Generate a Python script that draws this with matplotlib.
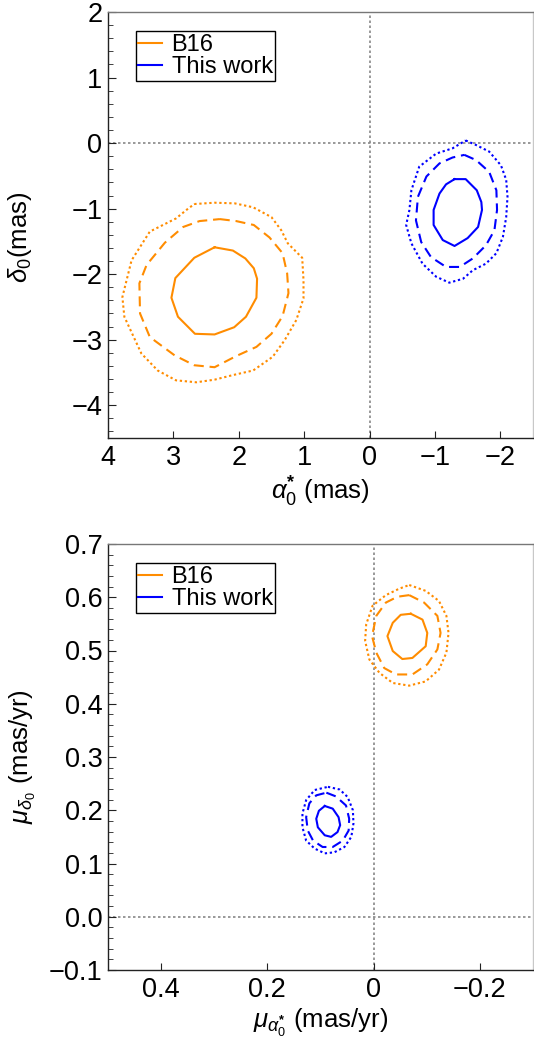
import numpy as np
import matplotlib
matplotlib.use("Agg")
import matplotlib.pyplot as plt
from matplotlib.ticker import FixedLocator, MultipleLocator

plt.rcParams['font.family'] = ['Liberation Sans', 'DejaVu Sans']
plt.rcParams['mathtext.fontset'] = 'custom'
plt.rcParams['mathtext.rm'] = 'Liberation Sans'
plt.rcParams['mathtext.it'] = 'Liberation Sans:italic'
plt.rcParams['mathtext.bf'] = 'Liberation Sans:bold'

orange = '#FF8C00'
blue = '#0000FF'

# ---- contour outlines (data coordinates) ----
# top panel: alpha0* vs delta0 (mas)
b16_pos_1 = [(2.37, -1.59), (2.09, -1.64), (1.90, -1.76), (1.77, -1.91), (1.72, -2.07),
             (1.73, -2.36), (1.89, -2.65), (2.07, -2.81), (2.37, -2.92), (2.67, -2.91),
             (2.93, -2.65), (3.03, -2.36), (2.97, -2.06), (2.68, -1.75)]
b16_pos_2 = [(2.29, -1.16), (2.04, -1.19), (1.77, -1.25), (1.53, -1.44), (1.33, -1.68),
             (1.26, -1.99), (1.24, -2.29), (1.33, -2.64), (1.50, -2.91), (1.73, -3.11),
             (2.04, -3.25), (2.37, -3.42), (2.68, -3.39), (2.98, -3.24), (3.36, -2.96),
             (3.51, -2.60), (3.52, -2.14), (3.41, -1.86), (3.13, -1.52), (2.85, -1.28),
             (2.60, -1.19)]
b16_pos_3 = [(2.68, -0.93), (2.37, -0.91), (2.06, -0.92), (1.78, -0.98), (1.50, -1.13),
             (1.35, -1.33), (1.25, -1.53), (1.03, -1.75), (1.01, -2.09), (1.01, -2.37),
             (1.12, -2.70), (1.30, -3.01), (1.48, -3.26), (1.78, -3.47), (2.09, -3.54),
             (2.37, -3.61), (2.65, -3.65), (2.96, -3.62), (3.24, -3.47), (3.49, -3.21),
             (3.75, -2.65), (3.78, -2.35), (3.64, -1.79), (3.36, -1.35), (2.96, -1.15),
             (2.80, -1.02)]
tw_pos_1 = [(-1.30, -0.55), (-1.47, -0.55), (-1.64, -0.72), (-1.71, -0.90), (-1.72, -1.02),
            (-1.66, -1.28), (-1.50, -1.45), (-1.30, -1.57), (-1.12, -1.48), (-0.98, -1.25),
            (-0.98, -1.02), (-1.07, -0.77), (-1.17, -0.63)]
tw_pos_2 = [(-1.45, -0.18), (-1.63, -0.26), (-1.83, -0.44), (-1.94, -0.72), (-1.95, -1.02),
            (-1.91, -1.33), (-1.78, -1.56), (-1.58, -1.76), (-1.38, -1.89), (-1.17, -1.89),
            (-0.94, -1.74), (-0.79, -1.51), (-0.71, -1.18), (-0.74, -0.82), (-0.87, -0.51),
            (-1.07, -0.31), (-1.27, -0.22)]
tw_pos_3 = [(-1.47, 0.04), (-1.63, -0.03), (-1.83, -0.13), (-2.01, -0.34), (-2.09, -0.56),
            (-2.11, -0.82), (-2.09, -1.13), (-2.04, -1.43), (-1.94, -1.68), (-1.78, -1.84),
            (-1.58, -1.94), (-1.43, -2.07), (-1.22, -2.13), (-1.02, -2.04), (-0.81, -1.84),
            (-0.64, -1.53), (-0.56, -1.25), (-0.61, -1.02), (-0.64, -0.72), (-0.76, -0.36),
            (-1.02, -0.16), (-1.27, -0.08)]

# bottom panel: proper motions (mas/yr)
b16_pm_1 = [(-0.070, 0.569), (-0.092, 0.558), (-0.101, 0.533), (-0.098, 0.508), (-0.073, 0.486),
            (-0.054, 0.484), (-0.036, 0.499), (-0.026, 0.527), (-0.036, 0.552), (-0.051, 0.567)]
b16_pm_2 = [(-0.067, 0.604), (-0.095, 0.590), (-0.120, 0.565), (-0.126, 0.533), (-0.120, 0.502),
            (-0.101, 0.474), (-0.073, 0.455), (-0.042, 0.455), (-0.020, 0.467), (-0.005, 0.496),
            (0.003, 0.527), (-0.005, 0.565), (-0.023, 0.590), (-0.045, 0.601)]
b16_pm_3 = [(-0.067, 0.623), (-0.098, 0.612), (-0.123, 0.593), (-0.137, 0.565), (-0.141, 0.533),
            (-0.137, 0.496), (-0.123, 0.464), (-0.098, 0.442), (-0.067, 0.434), (-0.036, 0.439),
            (-0.011, 0.458), (0.008, 0.483), (0.016, 0.518), (0.014, 0.549), (0.002, 0.584),
            (-0.023, 0.604), (-0.048, 0.616)]
tw_pm_1 = [(0.092, 0.208), (0.077, 0.203), (0.066, 0.187), (0.063, 0.172), (0.068, 0.159),
           (0.080, 0.150), (0.092, 0.153), (0.105, 0.168), (0.108, 0.184), (0.103, 0.199)]
tw_pm_2 = [(0.089, 0.233), (0.071, 0.226), (0.052, 0.209), (0.046, 0.184), (0.047, 0.162),
           (0.058, 0.143), (0.077, 0.131), (0.096, 0.131), (0.114, 0.143), (0.124, 0.162),
           (0.127, 0.187), (0.121, 0.213), (0.108, 0.228)]
tw_pm_3 = [(0.086, 0.244), (0.064, 0.239), (0.049, 0.225), (0.039, 0.200), (0.038, 0.175),
           (0.042, 0.150), (0.055, 0.131), (0.074, 0.121), (0.092, 0.119), (0.111, 0.128),
           (0.127, 0.143), (0.134, 0.168), (0.134, 0.194), (0.127, 0.219), (0.111, 0.238)]

top_xticks = [4, 3, 2, 1, 0, -1, -2]
top_yticks = [-4, -3, -2, -1, 0, 1, 2]
bot_xticks = [0.4, 0.2, 0, -0.2]
bot_xlabels = ['0.4', '0.2', '0', '\u22120.2']
bot_yticks = [-0.1, 0.0, 0.1, 0.2, 0.3, 0.4, 0.5, 0.6, 0.7]

dash_styles = ['-', (0, (4.8, 2.8)), (0, (1.1, 1.3))]


def closed(pts):
    a = np.array(pts + [pts[0]])
    return a[:, 0], a[:, 1]


def style_axes(ax):
    ax.spines['left'].set_color('#222222')
    ax.spines['bottom'].set_color('#222222')
    ax.spines['top'].set_color('#777777')
    ax.spines['right'].set_color('#c8c8c8')
    for s in ax.spines.values():
        s.set_linewidth(1.0)
    ax.tick_params(axis='both', which='both', direction='in', labelsize=19.5,
                   top=False, right=False, color='#222222')
    ax.tick_params(axis='y', which='major', length=6, width=0.8, pad=4)
    ax.tick_params(axis='y', which='minor', length=3.5, width=0.6)
    ax.tick_params(axis='x', which='major', length=5, width=0.8, pad=5)
    ax.tick_params(axis='x', which='minor', length=0)
    ax.axhline(0, color='#888888', ls=(0, (1.5, 1.5)), lw=1.2, zorder=1)
    ax.axvline(0, color='#888888', ls=(0, (1.5, 1.5)), lw=1.2, zorder=1)


fig = plt.figure(figsize=(5.34, 10.44), dpi=100)
ax1 = fig.add_axes([108 / 534, 606 / 1044, 425 / 534, 426 / 1044])
ax2 = fig.add_axes([108 / 534, 74 / 1044, 425 / 534, 426 / 1044])

# top panel
for pts, ls in zip([b16_pos_1, b16_pos_2, b16_pos_3], dash_styles):
    x, y = closed(pts)
    ax1.plot(x, y, color=orange, ls=ls, lw=1.5)
for pts, ls in zip([tw_pos_1, tw_pos_2, tw_pos_3], dash_styles):
    x, y = closed(pts)
    ax1.plot(x, y, color=blue, ls=ls, lw=1.5)
ax1.plot([], [], color=orange, lw=1.5, label='B16')
ax1.plot([], [], color=blue, lw=1.5, label='This work')
ax1.set_xlim(4, -2.5)
ax1.set_ylim(-4.5, 2)
ax1.xaxis.set_major_locator(FixedLocator(top_xticks))
ax1.yaxis.set_major_locator(FixedLocator(top_yticks))
ax1.yaxis.set_minor_locator(MultipleLocator(0.2))
style_axes(ax1)
ax1.set_xlabel(r'$\alpha_0^{\mathbf{*}}$ (mas)', fontsize=18.5, labelpad=3)
ax1.set_ylabel(r'$\delta_0$(mas)', fontsize=18.5)
ax1.yaxis.set_label_coords(-0.175, 0.47)

# bottom panel
for pts, ls in zip([b16_pm_1, b16_pm_2, b16_pm_3], dash_styles):
    x, y = closed(pts)
    ax2.plot(x, y, color=orange, ls=ls, lw=1.5)
for pts, ls in zip([tw_pm_1, tw_pm_2, tw_pm_3], dash_styles):
    x, y = closed(pts)
    ax2.plot(x, y, color=blue, ls=ls, lw=1.5)
ax2.plot([], [], color=orange, lw=1.5, label='B16')
ax2.plot([], [], color=blue, lw=1.5, label='This work')
ax2.set_xlim(0.5, -0.3)
ax2.set_ylim(-0.1, 0.7)
ax2.set_xticks(bot_xticks)
ax2.set_xticklabels(bot_xlabels)
ax2.set_yticks(bot_yticks)
ax2.set_yticklabels(['%.1f' % v if v >= 0 else '\u2212%.1f' % -v for v in bot_yticks])
ax2.yaxis.set_minor_locator(MultipleLocator(0.02))
style_axes(ax2)
ax2.set_xlabel(r'$\mu_{\alpha_0^{\mathbf{*}}}$ (mas/yr)', fontsize=18.5, labelpad=3)
ax2.set_ylabel(r'$\mu_{\delta_0}$ (mas/yr)', fontsize=18.5)
ax2.yaxis.set_label_coords(-0.165, 0.5)

for ax in (ax1, ax2):
    leg = ax.legend(loc='upper left', bbox_to_anchor=(0.065, 0.955), borderaxespad=0,
                    fontsize=17, handlelength=1.0, handletextpad=0.4, labelspacing=0.0,
                    borderpad=0.12, fancybox=False, framealpha=1)
    leg.get_frame().set_edgecolor('black')
    leg.get_frame().set_linewidth(1.0)

fig.savefig('out.png', dpi=100)
